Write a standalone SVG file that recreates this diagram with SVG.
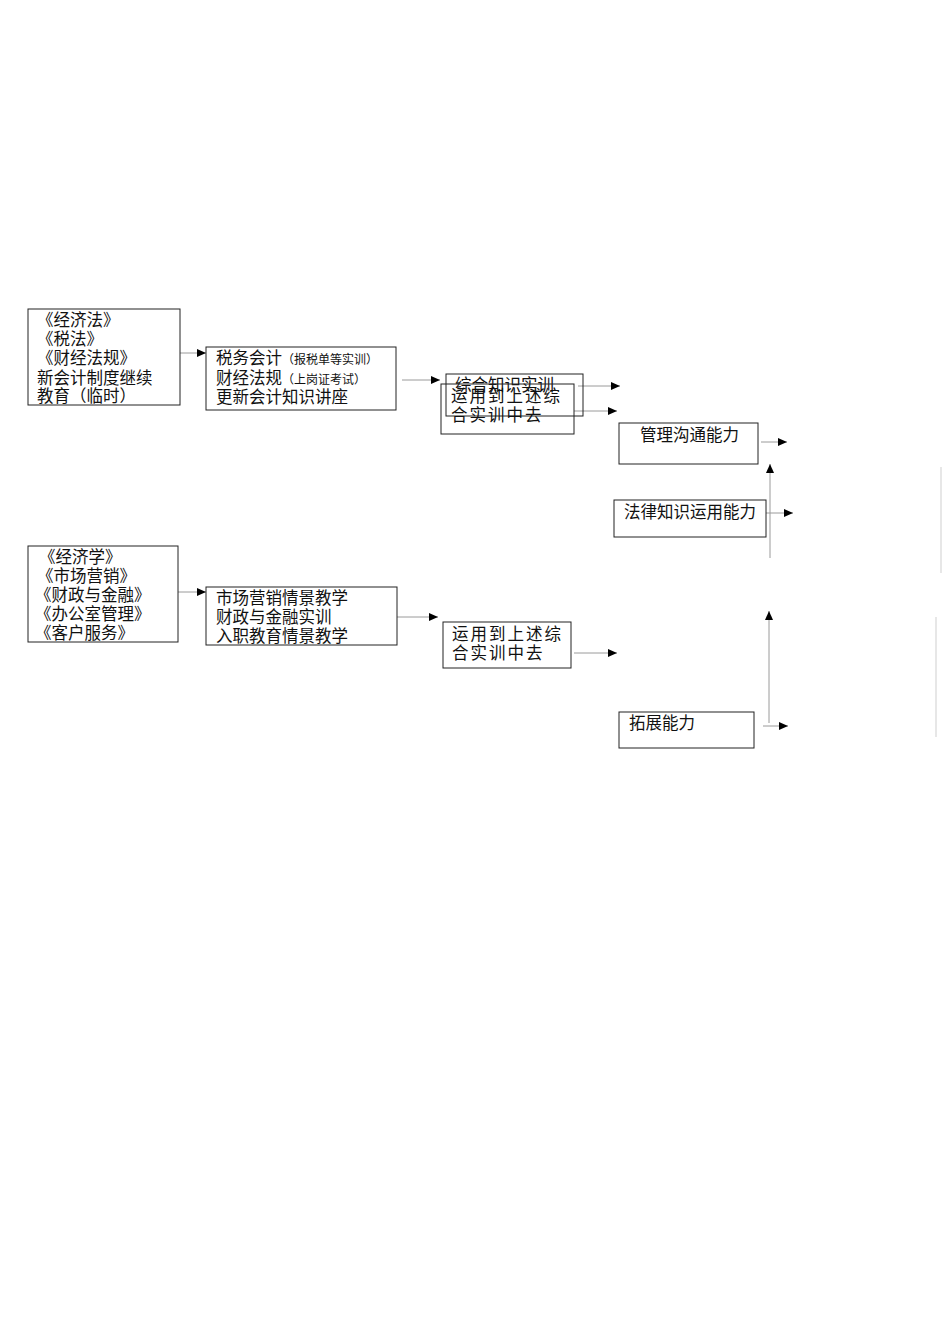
<svg xmlns="http://www.w3.org/2000/svg" width="950" height="1344" viewBox="0 0 950 1344">
<style>
.box{fill:#fff;stroke:#222;stroke-width:1}
.t{font-family:"Liberation Sans","Noto Sans CJK SC",sans-serif;font-size:16.5px;fill:#111}
.s{font-size:12px}
.sp{letter-spacing:2px}
.c{fill:none;stroke:#9a9a9a;stroke-width:1}
.f{fill:none;stroke:#cfcfcf;stroke-width:1}
</style>
<defs>
<marker id="ah" markerUnits="userSpaceOnUse" markerWidth="10" markerHeight="9" refX="9" refY="4" orient="auto">
<path d="M0,0 L9,4 L0,8 z" fill="#000"/>
</marker>
</defs>
<rect width="950" height="1344" fill="#fff"/>
<g id="connectors">
<path class="c" d="M180,353 H206" marker-end="url(#ah)"/>
<path class="c" d="M402,380 H440" marker-end="url(#ah)"/>
<path class="c" d="M578,386 H620" marker-end="url(#ah)"/>
<path class="c" d="M574,411 H617" marker-end="url(#ah)"/>
<path class="c" d="M761,442 H787" marker-end="url(#ah)"/>
<path class="c" d="M770,558 V464" marker-end="url(#ah)"/>
<path class="c" d="M766,513 H793" marker-end="url(#ah)"/>
<path class="c" d="M178,592 H206" marker-end="url(#ah)"/>
<path class="c" d="M397,617 H438" marker-end="url(#ah)"/>
<path class="c" d="M574,653 H617" marker-end="url(#ah)"/>
<path class="c" d="M769,723 V611" marker-end="url(#ah)"/>
<path class="c" d="M763,726 H788" marker-end="url(#ah)"/>
<path class="f" d="M941,467 V573"/>
<path class="f" d="M936,617 V737"/>
</g>
<g id="n1">
<rect class="box" x="28" y="309" width="152" height="96"/>
<text class="t" x="37" y="326">《经济法》</text>
<text class="t" x="37" y="345">《税法》</text>
<text class="t" x="37" y="364">《财经法规》</text>
<text class="t" x="37" y="384">新会计制度继续</text>
<text class="t" x="37" y="402">教育（临时）</text>
</g>
<g id="n2">
<rect class="box" x="206" y="347" width="190" height="63"/>
<text class="t" x="216" y="364">税务会计<tspan class="s">（报税单等实训）</tspan></text>
<text class="t" x="216" y="384">财经法规<tspan class="s">（上岗证考试）</tspan></text>
<text class="t" x="216" y="403">更新会计知识讲座</text>
</g>
<g id="n3">
<rect class="box" x="446" y="374" width="137" height="42" style="fill:none"/>
<text class="t" x="455" y="391">综合知识实训</text>
</g>
<g id="n4">
<rect class="box" x="441" y="384" width="133" height="50" style="fill:none"/>
<text class="t sp" x="451" y="402">运用到上述综</text>
<text class="t sp" x="451" y="421">合实训中去</text>
</g>
<g id="n5">
<rect class="box" x="619" y="423" width="139" height="41"/>
<text class="t" x="640" y="441">管理沟通能力</text>
</g>
<g id="n6">
<rect class="box" x="614" y="500" width="152" height="37"/>
<text class="t" x="624" y="518">法律知识运用能力</text>
</g>
<g id="n7">
<rect class="box" x="28" y="546" width="150" height="96"/>
<text class="t" x="39" y="563">《经济学》</text>
<text class="t" x="37" y="582">《市场营销》</text>
<text class="t" x="35" y="601">《财政与金融》</text>
<text class="t" x="35" y="620">《办公室管理》</text>
<text class="t" x="35" y="639">《客户服务》</text>
</g>
<g id="n8">
<rect class="box" x="206" y="587" width="191" height="58"/>
<text class="t" x="216" y="604">市场营销情景教学</text>
<text class="t" x="216" y="623">财政与金融实训</text>
<text class="t" x="216" y="642">入职教育情景教学</text>
</g>
<g id="n9">
<rect class="box" x="443" y="622" width="128" height="46"/>
<text class="t sp" x="452" y="640">运用到上述综</text>
<text class="t sp" x="452" y="659">合实训中去</text>
</g>
<g id="n10">
<rect class="box" x="619" y="712" width="135" height="36"/>
<text class="t" x="629" y="729">拓展能力</text>
</g>
</svg>
